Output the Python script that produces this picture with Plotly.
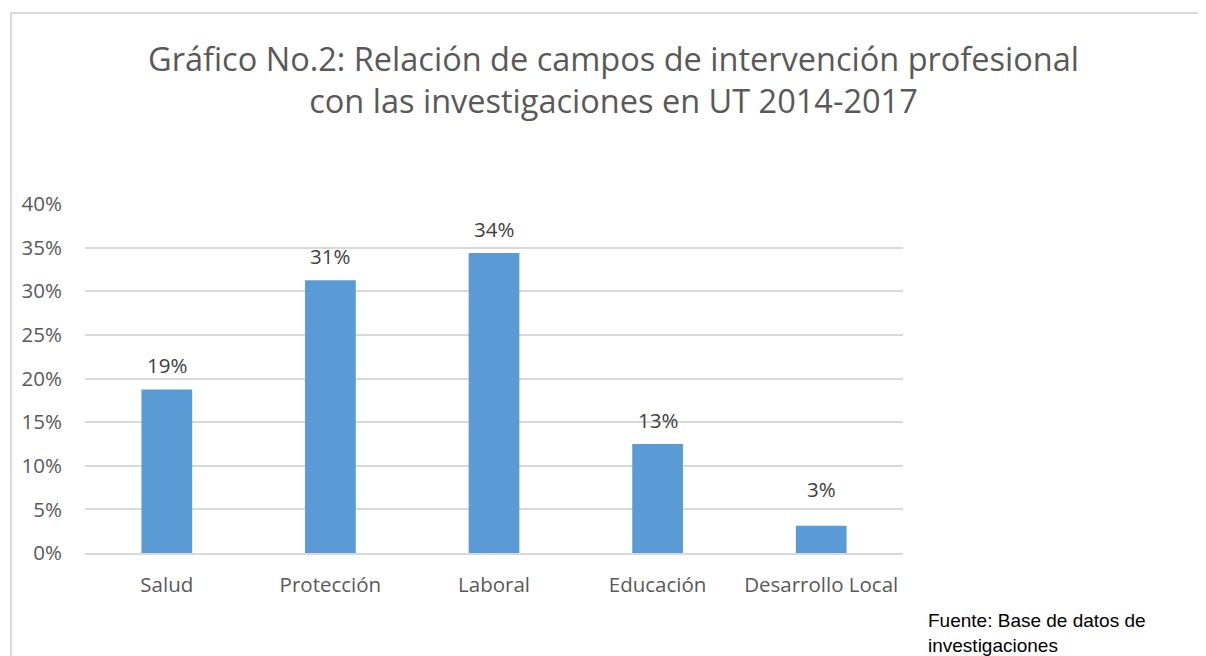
import plotly.graph_objects as go

categories = ["Salud", "Protección", "Laboral", "Educación", "Desarrollo Local"]
values = [18.75, 31.25, 34.375, 12.5, 3.125]
labels = ["19%", "31%", "34%", "13%", "3%"]
tick_vals = [0, 5, 10, 15, 20, 25, 30, 35, 40]
tick_text = ["0%", "5%", "10%", "15%", "20%", "25%", "30%", "35%", "40%"]

W, H = 1206, 656
OFF = 8  # page body margin
# plot area in page pixels: x 85..903, y 204..553
L = 85 - OFF
T = 204 - OFF
R = W - (903 - OFF)
B = H - (553 - OFF)
FONT = "Open Sans"

# label offsets (px) above bars; the small last bar's label sits higher, as in the source
label_shift = {"Desarrollo Local": 21}

fig = go.Figure()
fig.add_trace(go.Bar(
    x=categories, y=values,
    marker=dict(color="#5B9BD5", line=dict(width=0)),
    hoverinfo="x+y",
))

for c, v, t in zip(categories, values, labels):
    fig.add_annotation(x=c, y=v, text=t, showarrow=False, yanchor="bottom",
                       yshift=label_shift.get(c, 8),
                       font=dict(family=FONT, size=20.5, color="#404040"))

pw = W - L - R
ph = H - T - B
def px(x):
    return (x - OFF - L) / pw
def py(y):
    return (H - B - (y - OFF)) / ph

fig.add_annotation(xref="paper", yref="paper", x=px(613), y=py(79),
                   text="Gráfico No.2: Relación de campos de intervención profesional<br>con las investigaciones en UT 2014-2017",
                   showarrow=False, xanchor="center", yanchor="middle", align="center",
                   font=dict(family=FONT, size=32.5, color="#595959"))

fig.add_annotation(xref="paper", yref="paper", x=px(926), y=py(608),
                   text="Fuente: Base de datos de<br>investigaciones",
                   showarrow=False, xanchor="left", yanchor="top", align="left",
                   font=dict(family="Liberation Sans, Arial", size=19, color="#000000"))

fig.add_shape(type="rect", xref="paper", yref="paper",
              x0=px(11), x1=px(1240), y0=py(13), y1=py(700),
              line=dict(color="#D9D9D9", width=2), fillcolor="rgba(0,0,0,0)", layer="below")

fig.update_layout(
    width=W, height=H,
    margin=dict(l=L, r=R, t=T, b=B, pad=0),
    plot_bgcolor="white", paper_bgcolor="white",
    bargap=0.69,
    showlegend=False,
    font=dict(family=FONT, size=20.5, color="#595959"),
    xaxis=dict(showgrid=False, showline=True, linecolor="#D9D9D9", linewidth=1.5,
               ticks="", tickfont=dict(size=20.5, color="#595959"), ticklabelstandoff=13),
    yaxis=dict(range=[0, 40], tickvals=tick_vals, ticktext=tick_text,
               showgrid=True, gridcolor="#D9D9D9", gridwidth=1.5, zeroline=False,
               showline=False, ticks="", tickfont=dict(size=20.5, color="#595959"),
               ticklabelstandoff=22),
)

fig.write_html("out.html")
